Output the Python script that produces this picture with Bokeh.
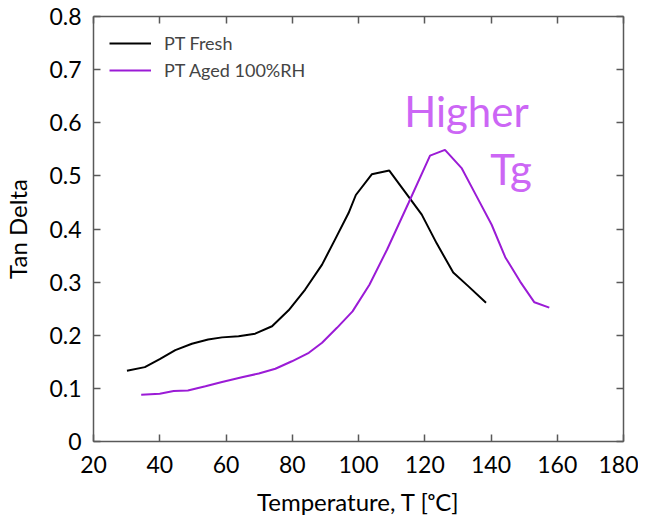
from bokeh.plotting import figure
from bokeh.models import LinearAxis, Range1d, Label, Legend, LegendItem, FixedTicker
from bokeh.embed import file_html
from bokeh.resources import INLINE

fresh_T = [30.1, 35.5, 40.0, 44.7, 49.7, 54.6, 58.8, 63.8, 68.8, 73.9, 78.9, 83.9, 89.0, 92.9, 97.0, 99.2, 104.0, 109.3, 115.1, 119.1, 123.6, 128.6, 133.2, 138.5]
fresh_tan = [0.133, 0.140, 0.155, 0.172, 0.184, 0.192, 0.196, 0.198, 0.203, 0.217, 0.247, 0.286, 0.333, 0.380, 0.430, 0.464, 0.503, 0.510, 0.461, 0.427, 0.373, 0.318, 0.292, 0.261]

aged_T = [34.4, 40.0, 44.2, 48.5, 53.8, 58.8, 64.8, 69.9, 74.9, 79.9, 85.0, 89.0, 93.5, 98.2, 103.3, 108.6, 115.1, 121.6, 126.1, 131.2, 135.7, 140.2, 144.3, 148.8, 153.1, 157.6]
aged_tan = [0.088, 0.090, 0.095, 0.096, 0.104, 0.112, 0.121, 0.128, 0.137, 0.151, 0.167, 0.186, 0.214, 0.245, 0.295, 0.361, 0.449, 0.538, 0.549, 0.514, 0.461, 0.408, 0.347, 0.301, 0.262, 0.252]

x_ticks = [20, 40, 60, 80, 100, 120, 140, 160, 180]
y_ticks = [0, 0.1, 0.2, 0.3, 0.4, 0.5, 0.6, 0.7, 0.8]
y_tick_labels = {0: "0", 0.1: "0.1", 0.2: "0.2", 0.3: "0.3", 0.4: "0.4", 0.5: "0.5", 0.6: "0.6", 0.7: "0.7", 0.8: "0.8"}

FONT = "Lato"
AXIS_COLOR = "#595959"

p = figure(width=638, height=518, output_backend="svg", toolbar_location=None,
           x_range=Range1d(20, 180), y_range=Range1d(0, 0.8),
           min_border_left=92, min_border_right=15, min_border_top=16, min_border_bottom=76,
           x_axis_label="Temperature, T [ᵒC]", y_axis_label="Tan Delta")
p.grid.visible = False
p.outline_line_color = None

r1 = p.line(fresh_T, fresh_tan, line_color="black", line_width=2)
r2 = p.line(aged_T, aged_tan, line_color="#9B1BD6", line_width=2)

def style_axis(ax, ticks, labels=True):
    ax.ticker = FixedTicker(ticks=ticks)
    ax.major_tick_in = 7
    ax.major_tick_out = 0
    ax.minor_tick_line_color = None
    ax.axis_line_color = AXIS_COLOR
    ax.axis_line_width = 1.5
    ax.major_tick_line_color = AXIS_COLOR
    ax.major_tick_line_width = 1.5
    ax.major_label_text_font = FONT
    ax.major_label_text_font_size = "23px"
    ax.major_label_text_color = "black"
    ax.axis_label_text_font = FONT
    ax.axis_label_text_font_size = "24px"
    ax.axis_label_text_font_style = "normal"
    ax.axis_label_text_color = "black"
    if not labels:
        ax.major_label_text_alpha = 0
        ax.major_label_text_font_size = "1px"
        ax.major_label_standoff = 0

xa = p.xaxis[0]
ya = p.yaxis[0]
style_axis(xa, x_ticks)
style_axis(ya, y_ticks)
ya.major_label_overrides = y_tick_labels
ya.major_label_standoff = 12
xa.major_label_standoff = 14
xa.axis_label_standoff = 11
ya.axis_label_standoff = 14

top = LinearAxis()
p.add_layout(top, "above")
style_axis(top, x_ticks, labels=False)
right = LinearAxis()
p.add_layout(right, "right")
style_axis(right, y_ticks, labels=False)

legend = Legend(items=[LegendItem(label="PT Fresh", renderers=[r1]),
                       LegendItem(label="PT Aged 100%RH", renderers=[r2])],
                location="top_left")
legend.border_line_color = None
legend.background_fill_alpha = 0
legend.label_text_font = FONT
legend.label_text_font_size = "18px"
legend.glyph_width = 42
legend.glyph_height = 20
legend.label_standoff = 13
legend.spacing = 5
legend.margin = 16
legend.padding = 2
p.add_layout(legend)

p.add_layout(Label(x=151.4, y=0.622, text="Higher", text_align="right", text_baseline="alphabetic",
                   text_font=FONT, text_font_size="42px", text_color="#CC66F5"))
p.add_layout(Label(x=152.3, y=0.513, text="Tg", text_align="right", text_baseline="alphabetic",
                   text_font=FONT, text_font_size="42px", text_color="#CC66F5"))

open("out.html", "w").write(file_html(p, INLINE))
